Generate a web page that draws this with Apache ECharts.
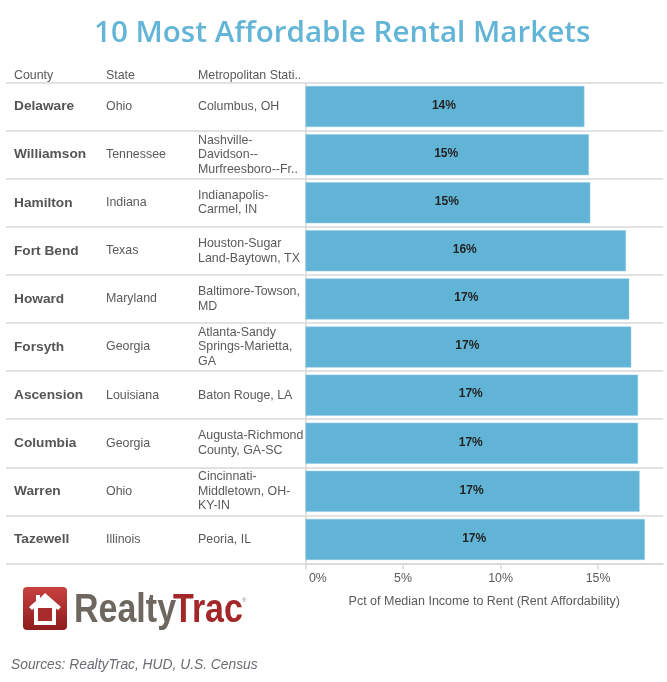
<!DOCTYPE html>
<html><head><meta charset="utf-8">
<style>html,body{margin:0;padding:0;background:#fff}#c{width:667px;height:682px}</style>
<script src="https://cdn.jsdelivr.net/npm/echarts@6/dist/echarts.min.js"></script>
</head><body><div id="c"></div>
<script>
const counties=["Delaware","Williamson","Hamilton","Fort Bend","Howard","Forsyth","Ascension","Columbia","Warren","Tazewell"];
const states=["Ohio","Tennessee","Indiana","Texas","Maryland","Georgia","Louisiana","Georgia","Ohio","Illinois"];
const metros=["Columbus, OH","Nashville-\nDavidson--\nMurfreesboro--Fr..","Indianapolis-\nCarmel, IN","Houston-Sugar\nLand-Baytown, TX","Baltimore-Towson,\nMD","Atlanta-Sandy\nSprings-Marietta,\nGA","Baton Rouge, LA","Augusta-Richmond\nCounty, GA-SC","Cincinnati-\nMiddletown, OH-\nKY-IN","Peoria, IL"];
const values=[14.3,14.53,14.6,16.43,16.6,16.7,17.05,17.05,17.13,17.4];
const headers=["County","State","Metropolitan Stati.."];
const ticks=[0,5,10,15];
const BLUE='#62b4d6',TXT='#5a5a5a',LINE='#d9d9d9',FF='"Liberation Sans",Arial,sans-serif';
const chart=echarts.init(document.getElementById('c'),null,{renderer:'canvas'});
const tableAxis=(data,margin,extra)=>Object.assign({type:'category',gridIndex:1,inverse:true,data,position:'left',
  axisLine:{show:false},axisTick:{show:false},splitLine:{show:false},
  axisLabel:{inside:true,interval:0,margin,align:'left',color:TXT,fontFamily:FF,fontSize:12.4,lineHeight:14.5}},extra||{});
chart.setOption({
  animation:false,backgroundColor:'#fff',
  title:[{text:'10 Most Affordable Rental Markets',left:89,top:14,padding:[5,5],itemGap:0,
    textStyle:{color:'#62b5d6',fontFamily:'"Open Sans",sans-serif',fontWeight:600,fontSize:29.6}}],
  grid:[{left:305.5,right:4,top:82.5,height:481},{left:6,width:299.5,top:82.5,height:481}],
  xAxis:[
    {type:'value',gridIndex:0,min:0,max:18.33,interval:5,
     name:'Pct of Median Income to Rent (Rent Affordability)',nameLocation:'middle',nameGap:32,
     nameTextStyle:{color:TXT,fontFamily:FF,fontSize:12.5},
     axisLine:{show:true,lineStyle:{color:LINE,width:1.5}},
     axisTick:{show:true,length:6,customValues:ticks,lineStyle:{color:LINE,width:1.5}},
     splitLine:{show:false},
     axisLabel:{color:TXT,fontFamily:FF,fontSize:12.4,margin:9,alignMinLabel:'left',customValues:ticks,
       formatter:v=>(v===0?' ':'')+v+'%'}},
    {type:'value',gridIndex:1,show:false,min:0,max:1}
  ],
  yAxis:[
    {type:'category',gridIndex:0,inverse:true,data:counties,
     axisLine:{show:true,onZero:false,lineStyle:{color:LINE,width:1.5}},axisTick:{show:false},axisLabel:{show:false},
     splitLine:{show:true,interval:0,lineStyle:{color:LINE,width:1.5}}},
    tableAxis(counties,8,{splitLine:{show:true,interval:0,lineStyle:{color:LINE,width:1.5}},
      axisLabel:{inside:true,interval:0,margin:8,align:'left',color:'#555',fontFamily:FF,fontSize:13.7,fontWeight:'bold'}}),
    tableAxis(states,100),
    tableAxis(metros,192)
  ],
  series:[{type:'bar',xAxisIndex:0,yAxisIndex:0,data:values,barWidth:41,
    itemStyle:{color:BLUE,borderColor:'#8ccbe4',borderWidth:0.5},
    label:{show:true,position:'inside',color:'#222',fontFamily:FF,fontSize:12,fontWeight:'bold',offset:[-1,-1],
      formatter:p=>Math.round(p.value)+'%'}}],
  graphic:[
    ...headers.map((t,i)=>({type:'text',left:[14,106,198][i],top:69.5,style:{text:t,fill:TXT,font:'12.4px '+FF}})),
    {type:'text',left:11,top:658,style:{text:'Sources: RealtyTrac, HUD, U.S. Census',fill:'#6b6b72',font:'italic 13.8px '+FF}},
    {type:'rect',shape:{x:23,y:587,width:44,height:43,r:4},
      style:{fill:new echarts.graphic.LinearGradient(0,0,0,1,[{offset:0,color:'#c8413f'},{offset:1,color:'#8e1c1e'}])}},
    {type:'polygon',shape:{points:[[45,593],[61,607],[58,610],[56,608.5],[56,625],[34,625],[34,608.5],[32,610],[29,607],[36,601],[36,595],[40,595],[40,598]]},style:{fill:'#fff'}},
    {type:'rect',shape:{x:38,y:608,width:14,height:13},style:{fill:'#a92b2c'}},
    {type:'text',x:74,y:591,scaleX:0.85,style:{text:'Realty',fill:'#6d675f',font:'bold 40px "Liberation Sans",sans-serif'}},
    {type:'text',x:173,y:591,scaleX:0.85,style:{text:'Trac',fill:'#a32629',font:'bold 40px "Liberation Sans",sans-serif'}},
    {type:'text',x:242,y:597,style:{text:'®',fill:'#888',font:'6px '+FF}}
  ]
});
</script></body></html>
